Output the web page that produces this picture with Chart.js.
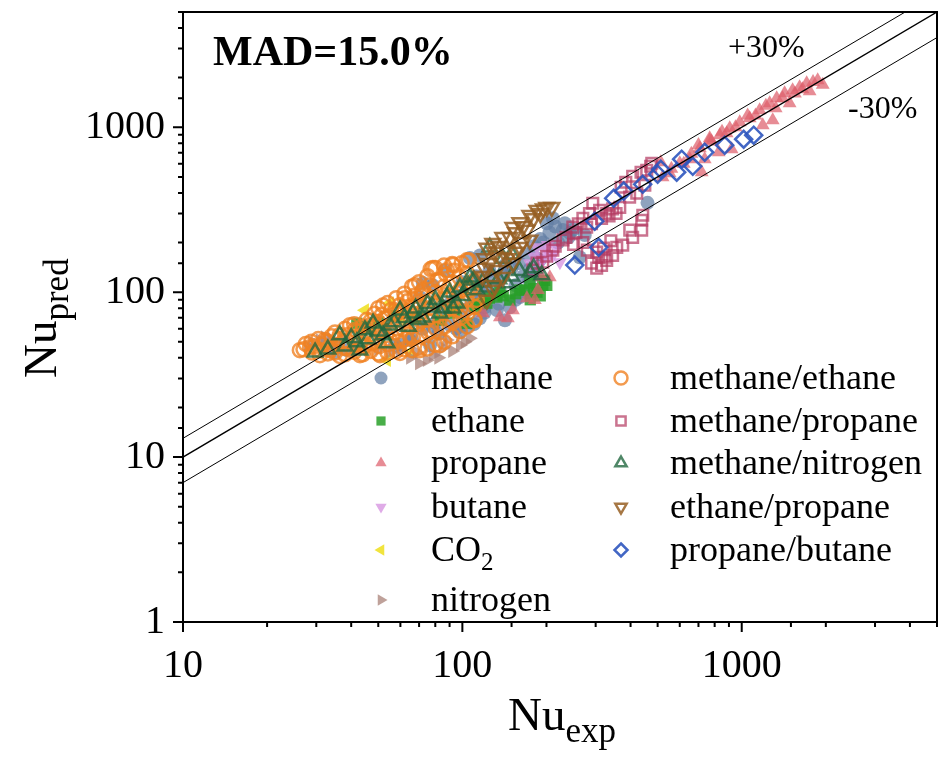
<!DOCTYPE html>
<html>
<head>
<meta charset="utf-8">
<script src="https://cdn.jsdelivr.net/npm/chart.js@4.4.1/dist/chart.umd.min.js"></script>
<style>
  html, body { margin: 0; padding: 0; background: #fff; }
</style>
</head>
<body>
<canvas id="c" width="948" height="757"></canvas>
<script>
// --- data, [Nu_exp, Nu_pred] ---
const methanePts = [[38.6,44.5],[35,43.3],[64.9,51.2],[57.4,47.7],[76.6,47.7],[52.8,58.9],[70.4,93.3],[72.2,113.5],[78.4,110],
  [86.6,136],[78.4,61.4],[93.7,89.5],[98,57.3],[103.8,61.4],[115.5,167],[120.3,81.1],[132.8,77.8],[147.9,81.1],[160.6,93.3],
  [136,103],[142,146],[174,118],[189,156],[200.5,262],[210.8,281],[229,238],[242.6,228],[232.6,262],[263.2,163],
  [274.2,222],[460,348],[115.5,69.5],[90.2,63.1],[142,67.6],[106.4,161],[72,60],[80,65],[85,75],[90,85],
  [95,95],[100,70],[105,80],[110,90],[115,100],[120,110],[125,95],[130,120],[140,130],[150,140],
  [160,150],[170,170],[180,190],[190,210],[205,230],[215,250],[250,240],[120,75],[135,85],[155,110],
  [165,125],[175,140],[185,160],[195,200],[60,48],[66,52],[82,56],[95,60],[110,64],[125,135],
  [112,125],[100,115],[170,100],[155,90],[185,130],[220,200],[240,215]];

const ethanePts = [[41.9,64.8],[103.8,64.8],[122.4,85.8],[132.8,93.3],[167,103],[174.4,113.5],[194,110],[200.5,110],[185,100],[147.9,89.5],
  [90.2,74.6],[83.1,67.6],[110.8,81.1],[67.6,69.5],[136.2,100],[160.6,103],[197,118],[45,62],[50,66],[58,72],
  [95,78],[115,85],[125,92],[140,95],[155,98],[180,105],[190,95],[175,90]];

const propanePts = [[118.4,74.6],[136.2,70.5],[145.5,69.5],[151.7,77.8],[170.2,92],[186.3,103],[192.4,123],[205.6,123],[181.7,89.5],
  [708,746],[768,834],[834,895],[906,986],[984,1073],[1068,1134],[1159,1268],[1259,1398],[1334,1500],[1424,1607],
  [1521,1676],[1611,1748],[1708,1849],[1870,1928],[1950,1810],[1189,1028],[1291,1102],[1484,1398],[719,534],[513,614],
  [920,736],[827,705],[737,640],[652,640],[600,605],[552,526],[521,497],[1323,1304],[1750,1652],[768,857],
  [883,920],[560,560],[620,600],[660,690],[700,780],[780,820],[850,940],[950,1000],[1050,1180],[1120,1180],
  [1220,1350],[1400,1500],[1550,1600],[1650,1700],[1800,1880]];

const butanePts = [[185,187],[197,180],[210.8,167],[223.4,152],[189,146],[202,193],[174.4,150],[216,185],[205,170],[195,160],[180,165]];

const co2Pts = [[55,85.8],[53.7,38.7],[44.8,77.8],[64.9,43.3],[60,70]];

const nitrogenPts = [[30.9,51.2],[32.2,53.4],[35.5,49.1],[37.4,52.8],[68.7,43.3],[74.6,38.7],[78.4,41.5],[88,51.2],[98,47.7],[106.4,52.6],
  [43,46.4],[59.8,44.5],[28,47],[29,50],[34,52],[40,49],[42,45],[65,40],[70,37],[82,40],
  [92,44],[102,50],[85,46],[50,45],[55,43]];

const methEthPts = [[26.2,44.5],[28.5,46.4],[30.9,41.5],[33.6,44.5],[36.4,41],[38,45.8],[43,41.5],[50.7,41.5],[59.8,42.8],[70.4,44.5],
  [83.1,47.7],[32.2,51.2],[36.4,55],[41.2,58.9],[46.7,63.1],[52.8,69.5],[59.8,75.7],[67.6,83],[76.6,89.5],[86.6,95.8],
  [98,103],[39.6,63.1],[52,83],[62.2,92],[72.2,103],[78.4,140],[92.5,146],[103.8,156],[88,136],[57.4,77.8],
  [67.6,110],[83.1,118],[106.4,103],[112.7,89.5],[98,77.8],[90.2,67.6],[76.6,58.9],[64.9,55],[55,51.2],[44.8,47.7],
  [110.8,67.6],[50.7,58.9],[70.4,67.6],[27,45],[27.5,48.5],[29,43],[29.5,47],[28.8,50],[31,44.5],[31.5,48],
  [30.5,52],[33,42.5],[33.5,46],[32.5,50],[34,54],[35,43],[35.5,47.5],[36,52],[35,57],[38,42],
  [38.5,46],[37.5,50.5],[39,55],[38,60],[41,43.5],[41.5,48],[40.5,53],[42,58],[41,64],[44,42],
  [44.5,46.5],[43.5,51],[45,57],[44,62],[45.5,68],[47,44],[47.5,49],[46.5,55],[48,61],[47,67],
  [48.5,74],[50,42.5],[50.5,47],[49.5,53],[51,59],[50,66],[51.5,73],[50,80],[54,43],[54.5,48.5],
  [53.5,55],[55,62],[54,70],[55.5,78],[54,86],[58,44],[58.5,50],[57.5,57],[59,65],[58,74],
  [59.5,83],[58,92],[62,45],[62.5,52],[61.5,60],[63,68],[62,78],[63.5,88],[62,98],[66,44.5],
  [66.5,53],[65.5,62],[67,72],[66,82],[67.5,95],[66,108],[70,46],[70.5,55],[69.5,64],[71,75],
  [70,88],[71.5,100],[70,115],[75,45.5],[75.5,57],[74.5,68],[76,80],[75,95],[76.5,110],[75,125],
  [77,138],[80,48],[80.5,60],[79.5,72],[81,86],[80,100],[81.5,118],[80,140],[86,50],[86.5,62],
  [85.5,76],[87,92],[86,108],[87.5,128],[86,145],[92,54],[92.5,66],[91.5,80],[93,96],[92,115],
  [93.5,135],[92,148],[98,58],[98.5,70],[97.5,85],[99,102],[98,122],[99.5,150],[104,62],[104.5,75],
  [103.5,90],[105,108],[104,130],[105.5,156],[110,68],[110.5,82],[109.5,98],[111,118]];

const methPropPts = [[178.7,136],[194,152],[210.8,180],[229,207],[248.5,248],[270,281],[293,346],[302.6,175],[302.6,140],[328.6,156],
  [357,187],[375,193],[397.3,238],[438.5,273],[442.4,293],[457,549],[476.4,605],[366,327],[397,377],[421,398],
  [450,445],[310,314],[328.6,300],[278.6,248],[307.6,163],[323.7,163],[345,167],[407,215],[438.5,238],[407,505],
  [436,534],[384.6,464],[370,433],[472,580],[185,150],[200,165],[215,190],[235,215],[255,230],[260,260],
  [285,300],[290,260],[315,280],[335,290],[345,320],[355,300],[270,200],[250,195],[280,180],[290,150],
  [315,145],[320,185],[340,205]];

const methNitPts = [[29.7,43.3],[41.9,49.8],[43,44.5],[47.9,64.8],[53.7,49.1],[55,63.1],[59.8,77.8],[66.5,74.6],[78.4,81.1],[88,93.3],
  [95.5,85.8],[106.4,123],[98,107],[122.4,107],[128.5,123],[144.3,113.5],[174.4,132],[192.4,127],[112.7,103],[92.5,80],
  [72.2,70.5],[83.1,74.6],[125.4,187],[44.8,58.9],[36.4,55],[33,45],[38,47],[40,53],[46,52],[50,58],
  [52,55],[57,66],[62,70],[64,62],[68,80],[70,68],[75,85],[80,90],[85,80],[90,100],
  [100,95],[105,110],[110,118],[118,115],[135,120],[150,125],[160,135],[180,140],[140,160],[150,170]];

const ethPropPts = [[200.5,327],[185,314],[174.4,293],[160.6,265],[151.7,248],[139.6,215],[128.5,198],[122.4,185],[147.9,215],[144.3,180],
  [160.6,187],[174.4,207],[136.2,163],[151.7,150],[139.6,123],[128.5,103],[122.4,89.5],[132.8,136],[170.2,238],[209,327],
  [164.6,201],[125.4,150],[130,175],[135,190],[155,230],[165,250],[180,280],[190,300],[195,320],[120,160],
  [145,160],[155,175],[120,140],[130,110],[118,125]];

const propButPts = [[252.6,146],[307.6,187],[297.7,269],[348,371],[378,410],[442,451],[500,519],[513,556],[585,534],[609.5,640],
  [668,580],[737,705],[869,778],[1016,846],[1104,895]];

const xTickLabels = [10, 100, 1000];
const yTickLabels = [1, 10, 100, 1000];
const refRatios = [1, 1.3, 0.7];
const refRange = [10, 5000];

const SERIF = '"Liberation Serif", "Times New Roman", serif';

const series = [
  { name: 'methane',          pts: methanePts,  style: 'circle',   rot: 0,   filled: true,  color: 'rgba(100,128,165,0.72)', r: 7 },
  { name: 'ethane',           pts: ethanePts,   style: 'rect',     rot: 0,   filled: true,  color: 'rgba(40,160,40,0.85)',   r: 8 },
  { name: 'propane',          pts: propanePts,  style: 'triangle', rot: 0,   filled: true,  color: 'rgba(222,95,108,0.72)',  r: 8 },
  { name: 'butane',           pts: butanePts,   style: 'triangle', rot: 180, filled: true,  color: 'rgba(215,150,225,0.8)',  r: 8 },
  { name: 'CO2',              pts: co2Pts,      style: 'triangle', rot: 270, filled: true,  color: 'rgba(240,225,40,0.9)',   r: 8 },
  { name: 'nitrogen',         pts: nitrogenPts, style: 'triangle', rot: 90,  filled: true,  color: 'rgba(170,130,120,0.75)', r: 8 },
  { name: 'methane/ethane',   pts: methEthPts,  style: 'circle',   rot: 0,   filled: false, color: 'rgba(240,130,35,0.8)',   r: 7 },
  { name: 'methane/propane',  pts: methPropPts, style: 'rect',     rot: 0,   filled: false, color: 'rgba(180,55,95,0.7)',    r: 7.5 },
  { name: 'methane/nitrogen', pts: methNitPts,  style: 'triangle', rot: 0,   filled: false, color: 'rgba(35,105,65,0.8)',    r: 8.5 },
  { name: 'ethane/propane',   pts: ethPropPts,  style: 'triangle', rot: 180, filled: false, color: 'rgba(150,95,35,0.85)',   r: 8.5 },
  { name: 'propane/butane',   pts: propButPts,  style: 'rectRot',  rot: 0,   filled: false, color: 'rgba(45,85,190,0.9)',    r: 8.5 }
];

const isDecade = v => Math.abs(Math.log10(v) - Math.round(Math.log10(v))) < 1e-9;

const datasets = series.map((s, i) => ({
  type: 'scatter',
  label: s.name,
  data: s.pts.map(p => ({ x: p[0], y: p[1] })),
  pointStyle: s.style,
  pointRotation: s.rot,
  pointRadius: s.r,
  pointBackgroundColor: s.filled ? s.color : 'rgba(0,0,0,0)',
  pointBorderColor: s.color,
  pointBorderWidth: s.filled ? 0 : 2.5,
  order: series.length - i
}));

refRatios.forEach(k => {
  datasets.push({
    type: 'line',
    label: 'ref' + k,
    data: refRange.map(v => ({ x: v, y: v * k })),
    borderColor: '#000',
    borderWidth: k === 1 ? 1.4 : 1,
    pointRadius: 0,
    fill: false,
    order: -1
  });
});

// legend markers, same shapes as the plot
function marker(ctx, s, x, y, r) {
  ctx.save();
  ctx.translate(x, y);
  ctx.rotate(s.rot * Math.PI / 180);
  ctx.beginPath();
  if (s.style === 'circle') {
    ctx.arc(0, 0, r, 0, Math.PI * 2);
  } else if (s.style === 'rect') {
    const h = r * Math.SQRT1_2;
    ctx.rect(-h, -h, 2 * h, 2 * h);
  } else if (s.style === 'rectRot') {
    ctx.moveTo(0, -r); ctx.lineTo(r, 0); ctx.lineTo(0, r); ctx.lineTo(-r, 0); ctx.closePath();
  } else {
    ctx.moveTo(0, -r);
    ctx.lineTo(r * Math.sin(Math.PI * 2 / 3), -r * Math.cos(Math.PI * 2 / 3));
    ctx.lineTo(-r * Math.sin(Math.PI * 2 / 3), -r * Math.cos(Math.PI * 2 / 3));
    ctx.closePath();
  }
  if (s.filled) { ctx.fillStyle = s.color; ctx.fill(); }
  else { ctx.lineWidth = 2.5; ctx.strokeStyle = s.color; ctx.stroke(); }
  ctx.restore();
}

const decorations = {
  id: 'decorations',
  afterDraw(chart) {
    const { ctx, chartArea: a, scales: { x, y } } = chart;
    ctx.save();

    // frame and outward ticks
    ctx.strokeStyle = '#000';
    ctx.lineWidth = 2;
    ctx.strokeRect(a.left, a.top, a.right - a.left, a.bottom - a.top);
    ctx.beginPath();
    x.ticks.forEach(t => {
      const px = x.getPixelForValue(t.value);
      ctx.moveTo(px, a.bottom);
      ctx.lineTo(px, a.bottom + (isDecade(t.value) ? 10 : 5));
    });
    y.ticks.forEach(t => {
      const py = y.getPixelForValue(t.value);
      ctx.moveTo(a.left, py);
      ctx.lineTo(a.left - (isDecade(t.value) ? 10 : 5), py);
    });
    ctx.stroke();

    ctx.fillStyle = '#000';
    ctx.textBaseline = 'alphabetic';
    ctx.textAlign = 'left';

    // annotations
    ctx.font = 'bold 42px ' + SERIF;
    ctx.fillText('MAD=15.0%', 213, 65);
    ctx.font = '32px ' + SERIF;
    ctx.fillText('+30%', 728, 57);
    ctx.fillText('-30%', 848, 118);

    // x title
    ctx.font = '47px ' + SERIF;
    ctx.fillText('Nu', 508, 730);
    let w = ctx.measureText('Nu').width;
    ctx.font = '35px ' + SERIF;
    ctx.fillText('exp', 508 + w, 742);

    // y title
    ctx.save();
    ctx.translate(56, 378);
    ctx.rotate(-Math.PI / 2);
    ctx.font = '47px ' + SERIF;
    ctx.fillText('Nu', 0, 0);
    w = ctx.measureText('Nu').width;
    ctx.font = '35px ' + SERIF;
    ctx.fillText('pred', w, 12);
    ctx.restore();

    // legend, two columns inside the plot
    const rows = [378, 421, 463, 507, 550, 600];
    series.forEach((s, i) => {
      const col = i < 6 ? 0 : 1;
      const row = col === 0 ? i : i - 6;
      const mx = col === 0 ? 381 : 621;
      const tx = col === 0 ? 431 : 670;
      const cy = rows[row];
      marker(ctx, s, mx, cy, 6.5);
      ctx.fillStyle = '#000';
      ctx.font = '36px ' + SERIF;
      if (s.name === 'CO2') {
        ctx.fillText('CO', tx, cy + 11);
        const cw = ctx.measureText('CO').width;
        ctx.font = '25px ' + SERIF;
        ctx.fillText('2', tx + cw, cy + 20);
      } else {
        ctx.fillText(s.name, tx, cy + 11);
      }
    });

    ctx.restore();
  }
};

new Chart(document.getElementById('c'), {
  type: 'scatter',
  data: { datasets },
  options: {
    responsive: false,
    animation: false,
    layout: { padding: { top: 12, right: 11, left: 0, bottom: 0 } },
    plugins: { legend: { display: false }, tooltip: { enabled: false } },
    scales: {
      x: {
        type: 'logarithmic', min: 10, max: 5000,
        grid: { display: false, drawTicks: false },
        border: { display: false },
        ticks: {
          autoSkip: false, maxRotation: 0, padding: 20, color: '#000',
          font: { family: SERIF, size: 40 },
          callback: v => xTickLabels.includes(Math.round(v)) && isDecade(v) ? String(Math.round(v)) : ''
        },
        afterFit(s) { s.height = 135; s.paddingLeft = 0; s.paddingRight = 0; }
      },
      y: {
        type: 'logarithmic', min: 1, max: 5000,
        grid: { display: false, drawTicks: false },
        border: { display: false },
        ticks: {
          autoSkip: false, padding: 18, color: '#000',
          font: { family: SERIF, size: 40 },
          callback: v => yTickLabels.includes(Math.round(v)) && isDecade(v) ? String(Math.round(v)) : ''
        },
        afterFit(s) { s.width = 183; s.paddingTop = 0; s.paddingBottom = 0; }
      }
    }
  },
  plugins: [decorations]
});
</script>
</body>
</html>
